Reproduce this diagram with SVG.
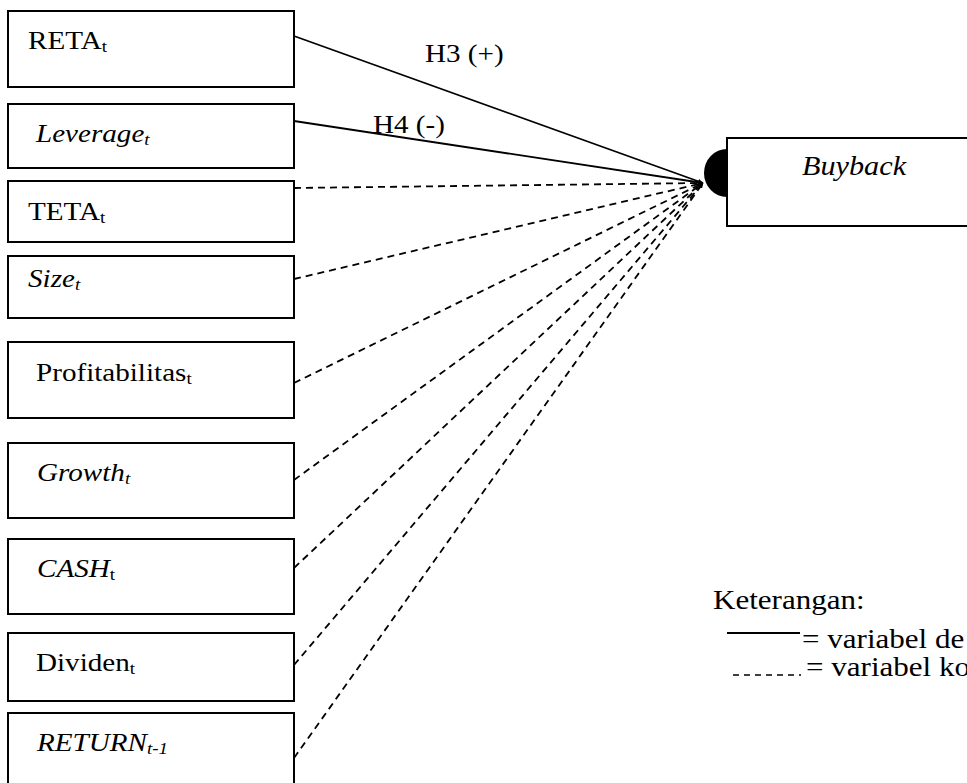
<svg xmlns="http://www.w3.org/2000/svg" width="967" height="783" viewBox="0 0 967 783">
<defs>
<style>
.box{fill:#fff;stroke:#000;stroke-width:2}
.t{font-family:"Liberation Serif","Times New Roman",serif;font-size:26px;fill:#000}
.i{font-style:italic}
.sub{font-size:17px}
.big{font-family:"Liberation Serif","Times New Roman",serif;font-size:27px;fill:#000}
.solid{stroke:#000;stroke-width:1.8;fill:none}
.dash{stroke:#000;stroke-width:1.8;fill:none;stroke-dasharray:7 5}
</style>
<marker id="ah" viewBox="0 0 10 10" refX="10" refY="5" markerWidth="5" markerHeight="5" orient="auto" markerUnits="userSpaceOnUse">
<path d="M0,0 L10,5 L0,10 z" fill="#000"/>
</marker>
</defs>
<rect width="967" height="783" fill="#fff"/>
<g id="connectors">
<line class="solid" x1="294" y1="36" x2="703" y2="183" marker-end="url(#ah)"/>
<line class="solid" x1="294" y1="121" x2="703" y2="183" marker-end="url(#ah)"/>
<line class="dash" x1="294" y1="188" x2="703" y2="183" marker-end="url(#ah)"/>
<line class="dash" x1="294" y1="279" x2="703" y2="183" marker-end="url(#ah)"/>
<line class="dash" x1="294" y1="383" x2="703" y2="183" marker-end="url(#ah)"/>
<line class="dash" x1="294" y1="480" x2="703" y2="183" marker-end="url(#ah)"/>
<line class="dash" x1="294" y1="568" x2="703" y2="183" marker-end="url(#ah)"/>
<line class="dash" x1="294" y1="665" x2="703" y2="183" marker-end="url(#ah)"/>
<line class="dash" x1="294" y1="758" x2="703" y2="183" marker-end="url(#ah)"/>
<text class="t" transform="translate(425,62) scale(1.12,1)">H3 (+)</text>
<text class="t" transform="translate(373,133) scale(1.12,1)">H4 (-)</text>
</g>
<g id="reta"><rect class="box" x="8" y="11" width="286" height="76"/><text class="t" transform="translate(28,49) scale(1.12,1)">RETA<tspan class="sub" dy="3">t</tspan></text></g>
<g id="leverage"><rect class="box" x="8" y="104" width="286" height="64"/><text class="t i" transform="translate(36,142) scale(1.12,1)">Leverage<tspan class="sub" dy="3">t</tspan></text></g>
<g id="teta"><rect class="box" x="8" y="181" width="286" height="61"/><text class="t" transform="translate(28,220) scale(1.12,1)">TETA<tspan class="sub" dy="3">t</tspan></text></g>
<g id="size"><rect class="box" x="8" y="256" width="286" height="62"/><text class="t i" transform="translate(28,287) scale(1.12,1)">Size<tspan class="sub" dy="3">t</tspan></text></g>
<g id="profitabilitas"><rect class="box" x="8" y="342" width="286" height="76"/><text class="t" transform="translate(36,381) scale(1.12,1)">Profitabilitas<tspan class="sub" dy="3">t</tspan></text></g>
<g id="growth"><rect class="box" x="8" y="443" width="286" height="75"/><text class="t i" transform="translate(37,481) scale(1.12,1)">Growth<tspan class="sub" dy="3">t</tspan></text></g>
<g id="cash"><rect class="box" x="8" y="539" width="286" height="75"/><text class="t i" transform="translate(37,577) scale(1.12,1)">CASH<tspan class="sub" dy="3" font-style="normal">t</tspan></text></g>
<g id="dividen"><rect class="box" x="8" y="633" width="286" height="68"/><text class="t" transform="translate(36,671) scale(1.12,1)">Dividen<tspan class="sub" dy="3">t</tspan></text></g>
<g id="return"><rect class="box" x="8" y="713" width="286" height="80"/><text class="t i" transform="translate(37,751) scale(1.12,1)">RETURN<tspan class="sub" dy="3">t-1</tspan></text></g>
<g id="buyback">
<path d="M727,149 A23,24 0 0 0 727,197 Z" fill="#000"/>
<rect class="box" x="727" y="138" width="260" height="88"/>
<text class="big i" transform="translate(802,175) scale(1.12,1)">Buyback</text>
</g>
<g id="legend">
<text class="big" transform="translate(713,609) scale(1.15,1)">Keterangan:</text>
<line x1="727" y1="633" x2="800" y2="633" stroke="#000" stroke-width="1.8"/>
<text class="big" transform="translate(802,648) scale(1.15,1)">= variabel de</text>
<line x1="733" y1="675" x2="801" y2="675" stroke="#000" stroke-width="1.5" stroke-dasharray="6 5"/>
<text class="big" transform="translate(806,676) scale(1.15,1)">= variabel ko</text>
</g>
</svg>
